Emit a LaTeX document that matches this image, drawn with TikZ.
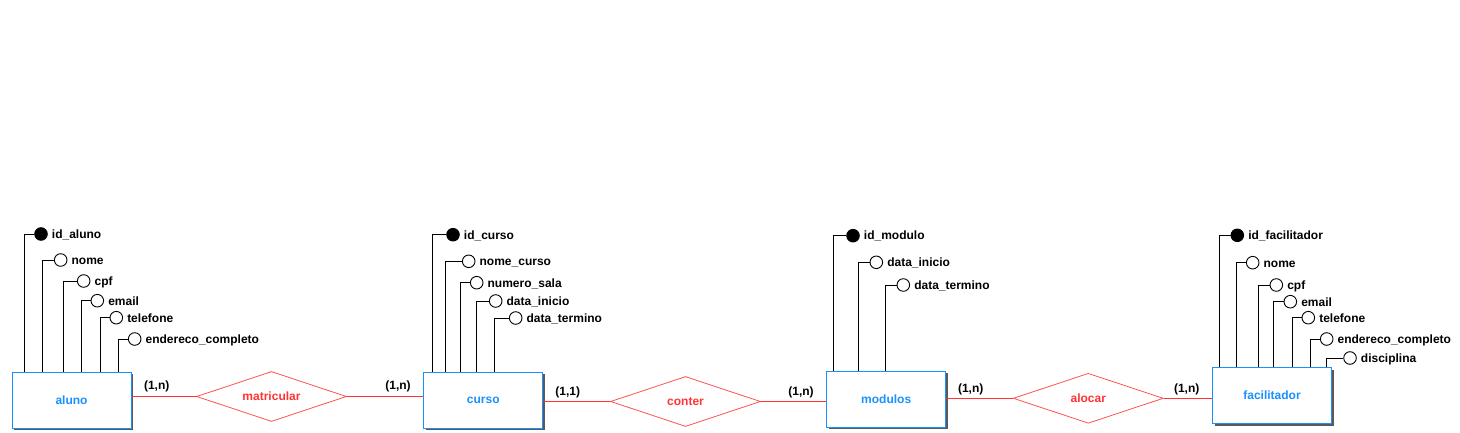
\documentclass[tikz,border=0pt]{standalone}
\usepackage{fontspec}
\setmainfont{Liberation Sans}
\usetikzlibrary{shapes.geometric,shadows,positioning}

\definecolor{azul}{RGB}{25,145,255}
\definecolor{verm}{RGB}{255,51,51}
\newcommand{\fonte}{\fontsize{12}{14}\selectfont\bfseries}

\tikzset{
  entidade/.style={draw=azul, fill=white, line width=1pt, minimum width=119pt,
    minimum height=56pt, inner sep=0pt, text=azul, font=\fonte,
    drop shadow={shadow xshift=2pt, shadow yshift=-2pt, fill=black!65, opacity=1}},
  relacao/.style={diamond, draw=verm!85, line width=0.8pt, aspect=3,
    minimum width=150pt, minimum height=50pt, inner sep=0pt, text=verm, font=\fonte},
  atrib/.style={circle, draw, line width=0.9pt, minimum size=12.6pt, inner sep=0pt},
  rotulo/.style={inner sep=0pt, text height=8.6pt, text depth=0pt, font=\fonte},
  card/.style={inner sep=0pt, font=\fonte},
  ligacao/.style={draw=verm, line width=0.9pt},
  haste/.style={draw, line width=0.9pt}
}

\begin{document}
\begin{tikzpicture}[x=1pt, y=-1pt]
\useasboundingbox (0,0) rectangle (1460,433);

% entidades
\node [entidade] (aluno) at (71.5,400) {aluno};
\node [entidade] (curso) at (483.3,400) {curso};
\node [entidade] (modulos) at (886.2,399) {modulos};
\node [entidade] (facilitador) at (1272,395.5) {facilitador};

% relacionamentos
\node [relacao] (matricular) at (271.5,396.5) {matricular};
\node [relacao] (conter) at (685.5,401.5) {conter};
\node [relacao] (alocar) at (1088.3,398.3) {alocar};

\draw [ligacao] (matricular.west -| aluno.east) -- (matricular.west);
\draw [ligacao] (matricular.east) -- (matricular.east -| curso.west);
\draw [ligacao] (conter.west -| curso.east) -- (conter.west);
\draw [ligacao] (conter.east) -- (conter.east -| modulos.west);
\draw [ligacao] (alocar.west -| modulos.east) -- (alocar.west);
\draw [ligacao] (alocar.east) -- (alocar.east -| facilitador.west);

% cardinalidades
\node [card] (c1) at (156.7,386.7) {(1,n)};
\node [card] (c2) at (398,386.7) {(1,n)};
\node [card] (c3) at (567.7,392.3) {(1,1)};
\node [card] (c4) at (801,392.3) {(1,n)};
\node [card] (c5) at (970.7,389) {(1,n)};
\node [card] (c6) at (1186.7,389.3) {(1,n)};

% atributos
\foreach \xv/\xc/\yc/\nm/\f [count=\i] in {
    24.7/41/234/id\_aluno/black, 42.3/60.7/260/nome/white,
    63.3/83.7/281/cpf/white, 81.3/97.3/300.7/email/white,
    100.3/116.3/317.7/telefone/white, 118.3/134.7/339/endereco\_completo/white} {
  \node [atrib, fill=\f] (aluno-a\i) at (\xc,\yc) {};
  \node [rotulo, right=4pt of aluno-a\i] (aluno-t\i) {\nm};
  \draw [haste] (\xv,0 |- aluno.north) |- (aluno-a\i);
}

\foreach \xv/\xc/\yc/\nm/\f [count=\i] in {
    432.7/453/234.7/id\_curso/black, 445.3/468.7/261.3/nome\_curso/white,
    460.7/476.7/282.7/numero\_sala/white, 476.3/495.7/301/data\_inicio/white,
    494.3/515.7/318/data\_termino/white} {
  \node [atrib, fill=\f] (curso-a\i) at (\xc,\yc) {};
  \node [rotulo, right=4pt of curso-a\i] (curso-t\i) {\nm};
  \draw [haste] (\xv,0 |- curso.north) |- (curso-a\i);
}

\foreach \xv/\xc/\yc/\nm/\f [count=\i] in {
    833.7/853/235.7/id\_modulo/black, 858.3/876.3/262.3/data\_inicio/white,
    885.3/903.3/285/data\_termino/white} {
  \node [atrib, fill=\f] (modulos-a\i) at (\xc,\yc) {};
  \node [rotulo, right=4pt of modulos-a\i] (modulos-t\i) {\nm};
  \draw [haste] (\xv,0 |- modulos.north) |- (modulos-a\i);
}

\foreach \xv/\xc/\yc/\nm/\f [count=\i] in {
    1219.7/1237.3/235.3/id\_facilitador/black, 1236.3/1252.7/262.7/nome/white,
    1258.3/1276.3/285/cpf/white, 1273.7/1290.3/301.7/email/white,
    1292.3/1308.3/317.7/telefone/white, 1310.3/1326.7/339/endereco\_completo/white,
    1326.3/1350/358/disciplina/white} {
  \node [atrib, fill=\f] (facilitador-a\i) at (\xc,\yc) {};
  \node [rotulo, right=4pt of facilitador-a\i] (facilitador-t\i) {\nm};
  \draw [haste] (\xv,0 |- facilitador.north) |- (facilitador-a\i);
}

\end{tikzpicture}
\end{document}
